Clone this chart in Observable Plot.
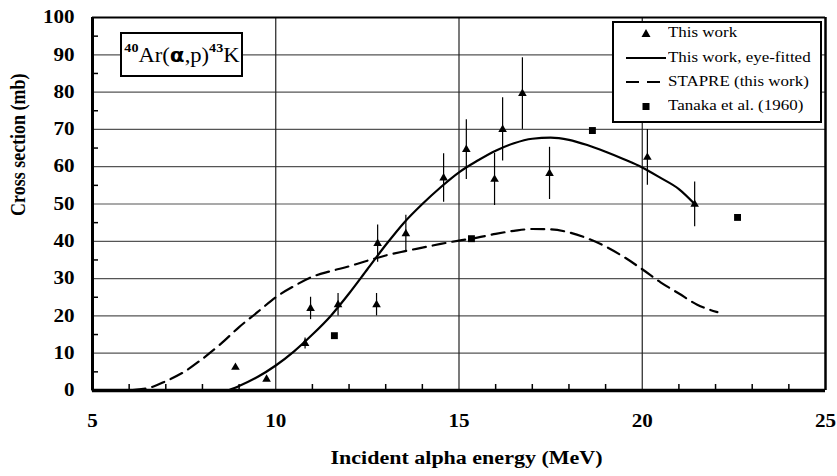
<!DOCTYPE html>
<html>
<head>
<meta charset="utf-8">
<script src="https://cdn.jsdelivr.net/npm/d3@7"></script>
<script src="https://cdn.jsdelivr.net/npm/@observablehq/plot@0.6"></script>
<style>
  html, body { margin: 0; padding: 0; background: #fff; }
  #wrap { position: relative; width: 837px; height: 476px; font-family: "Liberation Serif", "Times New Roman", serif; }
  #title { position: absolute; left: 120px; top: 32px; width: 119px; height: 41px; border: 2px solid #000; background: #fff;
           display: flex; align-items: center; justify-content: center; font-size: 20px; color: #000; }
  #title > span { display: inline-block; transform: scaleX(1.13); }
  #title sup { font-size: 12.5px; font-weight: bold; position: relative; top: -2px; }
  #legend { position: absolute; left: 612px; top: 21px; width: 206px; height: 98px; border: 2.5px solid #000; background: #fff; font-size: 15px; }
  .row { position: absolute; left: 0; height: 20px; width: 200px; }
  .row span { position: absolute; left: 54px; top: 1px; white-space: nowrap; transform: scaleX(1.13); transform-origin: left center; }
  .row svg { position: absolute; left: 10px; top: 0; }
</style>
</head>
<body>
<div id="wrap">
  <div id="chart"></div>
  <div id="title"><span><sup>40</sup>Ar(<b style="font-family:'DejaVu Sans',sans-serif;font-size:19px">α</b>,p)<sup>43</sup>K</span></div>
  <div id="legend"></div>
</div>
<script>
// "This work" measurements
const workE   = [8.9, 9.75, 10.8, 10.95, 11.7, 12.75, 12.78, 13.55, 14.58, 15.2, 15.97, 16.19, 16.73, 17.47, 20.14, 21.43];
const workSig = [6.2, 3.0, 12.6, 22.0, 23.0, 23.0, 39.4, 42.0, 57.0, 64.6, 56.6, 70.0, 79.6, 58.2, 62.5, 49.9];
const workErr = [0, 0, 1.5, 3, 3, 3, 5, 5, 6.5, 8, 7, 8.5, 9.6, 7, 7.5, 6];

// eye-fitted curve
const fitE   = [8.7, 9, 9.5, 10, 10.5, 11, 11.5, 12, 12.5, 13, 13.5, 14, 14.5, 15, 15.5, 16, 16.5, 17, 17.5, 18, 18.5, 19, 19.5, 20, 20.5, 21, 21.43];
const fitSig = [0, 1.2, 3.6, 6.7, 10.5, 15, 20, 26, 32.5, 39, 45, 50, 54.5, 58.5, 61.6, 64.3, 66.3, 67.5, 67.8, 67.2, 65.8, 64, 62, 59.8, 57, 54, 50];

// STAPRE calculation
const stapreE   = [5, 6, 6.5, 7, 7.5, 8, 8.5, 9, 9.5, 10, 10.5, 11, 11.5, 12, 12.5, 13, 13.5, 14, 14.5, 15, 15.5, 16, 16.5, 17, 17.5, 18, 18.5, 19, 19.5, 20, 20.5, 21, 21.5, 22.05];
const stapreSig = [0, 0.1, 0.6, 2.5, 5, 8.5, 12.5, 17, 21, 25, 28, 30.5, 32, 33.3, 34.8, 36.2, 37.3, 38.3, 39.3, 40.2, 41, 42, 42.8, 43.3, 43.2, 42.4, 40.8, 38.6, 35.8, 32.5, 29, 26, 23, 21];

// Tanaka et al. (1960)
const tanakaE   = [11.6, 15.34, 18.64, 22.6];
const tanakaSig = [14.7, 40.7, 69.7, 46.4];

// axes
const xTicks = [5, 10, 15, 20, 25];
const yTicks = [0, 10, 20, 30, 40, 50, 60, 70, 80, 90, 100];
const xGrid = [10, 15, 20];
const yGrid = [10, 20, 30, 40, 50, 60, 70, 80, 90];
const xMinor = [6, 7, 8, 9, 11, 12, 13, 14, 16, 17, 18, 19, 21, 22, 23, 24];
const yMinor = [5, 15, 25, 35, 45, 55, 65, 75, 85, 95];
const xTitle = "Incident alpha energy (MeV)";
const yTitle = "Cross section (mb)";

const work = workE.map((e, i) => ({E: e, s: workSig[i], err: workErr[i]}));
const fit = fitE.map((e, i) => ({E: e, s: fitSig[i]}));
const stapre = stapreE.map((e, i) => ({E: e, s: stapreSig[i]}));
const tanaka = tanakaE.map((e, i) => ({E: e, s: tanakaSig[i]}));

const W = 837, H = 476, mL = 92, mR = 12, mT = 17, mB = 86;
const innerW = W - mL - mR, innerH = H - mT - mB;

const chart = Plot.plot({
  width: W, height: H,
  marginLeft: mL, marginRight: mR, marginTop: mT, marginBottom: mB,
  x: {domain: [5, 25]},
  y: {domain: [0, 100]},
  style: {fontFamily: "'Liberation Serif', 'Times New Roman', serif", fontSize: "18px", fontWeight: "bold", color: "#000", background: "#fff"},
  marks: [
    Plot.ruleY(yGrid, {stroke: "#555", strokeWidth: 1.2}),
    Plot.ruleX(xGrid, {stroke: "#222", strokeWidth: 1.2}),
    Plot.ruleY([100], {stroke: "#000", strokeWidth: 2}),
    Plot.ruleX([25], {stroke: "#000", strokeWidth: 2.5}),
    Plot.tickX(xMinor, {x: d => d, insetTop: innerH - 6, stroke: "#000", strokeWidth: 1.5}),
    Plot.tickY(yMinor, {y: d => d, insetRight: innerW - 6, stroke: "#000", strokeWidth: 1.5}),
    Plot.line(stapre, {x: "E", y: "s", stroke: "#000", strokeWidth: 2.2, strokeDasharray: "13,7", curve: "monotone-x"}),
    Plot.line(fit, {x: "E", y: "s", stroke: "#000", strokeWidth: 2.2, curve: "monotone-x"}),
    Plot.ruleX(work.filter(d => d.err > 0), {x: "E", y1: d => d.s - d.err, y2: d => d.s + d.err, stroke: "#000", strokeWidth: 1.2}),
    Plot.dot(work, {x: "E", y: "s", symbol: "triangle", r: 3.2, fill: "#000", stroke: "none"}),
    Plot.dot(tanaka, {x: "E", y: "s", symbol: "square", r: 3.9, fill: "#000", stroke: "none"}),
    Plot.ruleX([5], {stroke: "#000", strokeWidth: 3}),
    Plot.ruleY([0], {stroke: "#000", strokeWidth: 3.5}),
    Plot.axisX(xTicks, {tickSize: 0, tickPadding: 24, label: null, fontSize: 18, fontWeight: "bold"}),
    Plot.axisY(yTicks, {tickSize: 0, tickPadding: 18, label: null, fontSize: 18, fontWeight: "bold"}),
    Plot.text([xTitle], {frameAnchor: "bottom", dy: 73, dx: 7.5, fontSize: 18, fontWeight: "bold"}),
    Plot.text([yTitle], {frameAnchor: "left", dx: -74, dy: 12, rotate: -90, fontSize: 18, fontWeight: "bold"})
  ]
});
document.getElementById("chart").appendChild(chart);

// widen glyphs horizontally like the reference
chart.querySelectorAll('g[aria-label="x-axis tick label"] text, g[aria-label="y-axis tick label"] text').forEach(t => {
  const len = t.getComputedTextLength();
  t.setAttribute("textLength", (len * 1.17).toFixed(1));
  t.setAttribute("lengthAdjust", "spacingAndGlyphs");
});
chart.querySelectorAll('g[aria-label="text"] text').forEach(t => {
  if (t.textContent === xTitle) {
    t.setAttribute("textLength", "272");
    t.setAttribute("lengthAdjust", "spacingAndGlyphs");
  }
  if (t.textContent === yTitle) {
    const tr = t.getAttribute("transform") || "";
    t.setAttribute("transform", tr + " scale(1,1.17)");
  }
});

// legend
const legendItems = [
  {label: "This work", kind: "triangle"},
  {label: "This work, eye-fitted", kind: "solid"},
  {label: "STAPRE (this work)", kind: "dashed"},
  {label: "Tanaka et al. (1960)", kind: "square"}
];
const rowsY = [0, 25, 49, 73];
const leg = document.getElementById("legend");
legendItems.forEach((it, i) => {
  const row = document.createElement("div");
  row.className = "row";
  row.style.top = rowsY[i] + "px";
  let sym = "";
  if (it.kind === "triangle") sym = '<svg width="44" height="20"><path d="M22,6 L26.5,14 L17.5,14 Z" fill="#000"/></svg>';
  if (it.kind === "square") sym = '<svg width="44" height="20"><rect x="18.5" y="7" width="7" height="7" fill="#000"/></svg>';
  if (it.kind === "solid") sym = '<svg width="44" height="20"><line x1="2" x2="42" y1="10" y2="10" stroke="#000" stroke-width="2.2"/></svg>';
  if (it.kind === "dashed") sym = '<svg width="44" height="20"><line x1="2" x2="42" y1="10" y2="10" stroke="#000" stroke-width="2.2" stroke-dasharray="13,8"/></svg>';
  row.innerHTML = sym + "<span>" + it.label + "</span>";
  leg.appendChild(row);
});
</script>
</body>
</html>
